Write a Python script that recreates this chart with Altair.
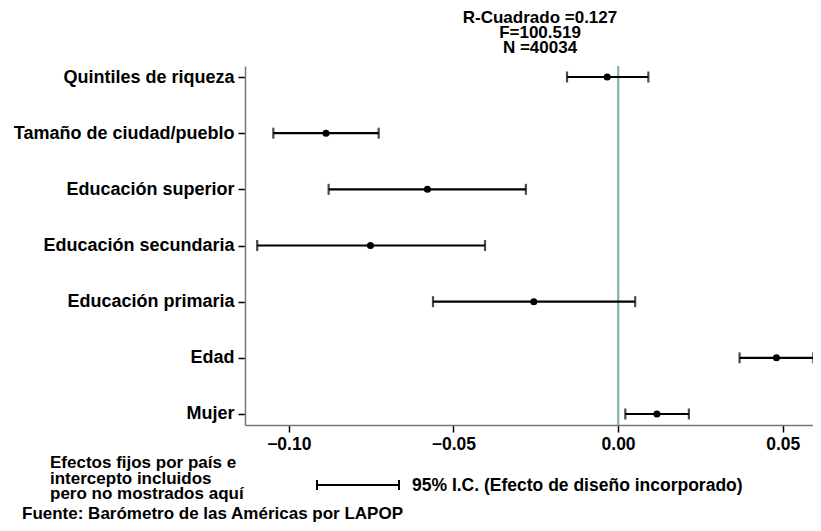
import altair as alt
import pandas as pd

# ---- data ----
variables = ["Quintiles de riqueza", "Tamaño de ciudad/pueblo", "Educación superior",
             "Educación secundaria", "Educación primaria", "Edad", "Mujer"]
coef = [-0.0033, -0.0887, -0.0579, -0.0752, -0.0256, 0.0481, 0.0118]
lower = [-0.0155, -0.1047, -0.0879, -0.1096, -0.0562, 0.0369, 0.0022]
upper = [0.0092, -0.0727, -0.0280, -0.0404, 0.0052, 0.0593, 0.0215]

x_ticks = [-0.10, -0.05, 0.00, 0.05]
stats_lines = ["R-Cuadrado =0.127", "F=100.519", "N =40034"]
note_lines = ["Efectos fijos por país  e", "intercepto incluidos", "pero no mostrados aquí"]
legend_label = "95% I.C. (Efecto de diseño incorporado)"
source_label = "Fuente: Barómetro de las Américas por LAPOP"

df = pd.DataFrame({"var": variables, "coef": coef, "lo": lower, "hi": upper})

W, H = 568, 359
FONT = "Liberation Sans"

xscale = alt.Scale(domain=[-0.1133, 0.0592], nice=False, zero=False)
yscale = alt.Scale(type="point", padding=0.196)

x_axis = alt.Axis(values=x_ticks, format=".2f", grid=False, tickSize=7, tickColor="#000",
                  tickWidth=1.5, domainColor="#777", domainWidth=1.5, labelFont=FONT,
                  labelFontSize=17.5, labelFontWeight="bold", labelColor="#000",
                  labelPadding=3, title=None)
y_axis = alt.Axis(grid=False, tickSize=7, tickColor="#000", tickWidth=1.5,
                  domainColor="#777", domainWidth=1.5, labelFont=FONT, labelFontSize=18,
                  labelFontWeight="bold", labelColor="#000", labelPadding=4,
                  title=None, labelLimit=300)

base = alt.Chart(df).encode(
    y=alt.Y("var:N", sort=variables, scale=yscale, axis=y_axis)
)

zero_line = alt.Chart(df).mark_rule(color="#8fb8ae", strokeWidth=2).encode(
    x=alt.datum(0, scale=xscale, axis=x_axis)
)

bars = base.mark_rule(color="#000", strokeWidth=2.2).encode(
    x=alt.X("lo:Q", scale=xscale, axis=x_axis), x2="hi:Q"
)
cap_lo = base.mark_tick(color="#000", thickness=2.2, size=11, orient="vertical").encode(
    x=alt.X("lo:Q", scale=xscale)
)
cap_hi = base.mark_tick(color="#000", thickness=2.2, size=11, orient="vertical").encode(
    x=alt.X("hi:Q", scale=xscale)
)
pts = base.mark_point(filled=True, color="#000", size=50, opacity=1).encode(
    x=alt.X("coef:Q", scale=xscale)
)

one = pd.DataFrame({"k": [0]})

stats_text = alt.Chart(one).mark_text(
    font=FONT, fontSize=17, fontWeight="bold", color="#000", lineHeight=15,
    align="center", baseline="middle"
).encode(x=alt.value(295), y=alt.value(-48), text=alt.value(stats_lines))

note_text = alt.Chart(one).mark_text(
    font=FONT, fontSize=17, fontWeight="bold", color="#000", lineHeight=15.5,
    align="left", baseline="middle"
).encode(x=alt.value(-195), y=alt.value(397), text=alt.value(note_lines))

leg_rule = alt.Chart(one).mark_rule(color="#000", strokeWidth=2).encode(
    x=alt.value(72), x2=alt.value(154), y=alt.value(419)
)
leg_cap1 = alt.Chart(one).mark_rule(color="#000", strokeWidth=2).encode(
    x=alt.value(72), y=alt.value(414), y2=alt.value(424)
)
leg_cap2 = alt.Chart(one).mark_rule(color="#000", strokeWidth=2).encode(
    x=alt.value(154), y=alt.value(414), y2=alt.value(424)
)
leg_text = alt.Chart(one).mark_text(
    font=FONT, fontSize=17.5, fontWeight="bold", color="#000",
    align="left", baseline="middle"
).encode(x=alt.value(167), y=alt.value(420), text=alt.value(legend_label))

src_text = alt.Chart(one).mark_text(
    font=FONT, fontSize=17, fontWeight="bold", color="#000",
    align="left", baseline="middle"
).encode(x=alt.value(-223), y=alt.value(448), text=alt.value(source_label))

chart = alt.layer(
    zero_line, bars, cap_lo, cap_hi, pts,
    stats_text, note_text, leg_rule, leg_cap1, leg_cap2, leg_text, src_text
).properties(
    width=W, height=H,
    autosize=alt.AutoSizeParams(type="none"),
    padding={"left": 237, "top": 58, "right": 0, "bottom": 98},
).configure_view(stroke=None)

chart.save("out.html", embed_options={"renderer": "svg", "actions": False})
